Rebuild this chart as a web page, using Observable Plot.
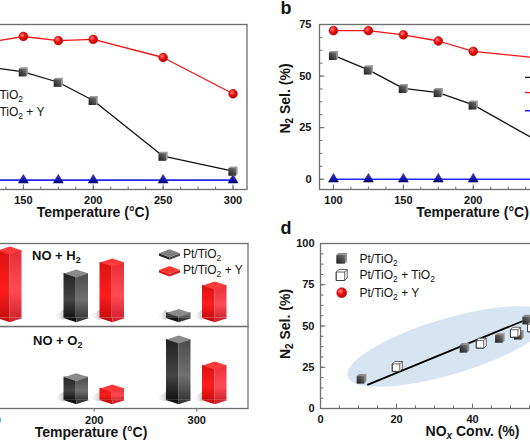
<!DOCTYPE html>
<html><head><meta charset="utf-8">
<script src="https://cdn.jsdelivr.net/npm/d3@7"></script>
<script src="https://cdn.jsdelivr.net/npm/@observablehq/plot@0.6"></script>
<style>
html,body{margin:0;padding:0;background:#fff;}
#root{position:relative;width:530px;height:442px;overflow:hidden;background:#fff;}
</style></head><body><div id="root"></div>
<script>
// ---------------- DATA ----------------
// panels a & b : temperature series
const temps = [100, 125, 150, 175, 200, 250, 300];
const convPt   = [75, 72.6, 69.6, 62.9, 51.2, 15.4, 5.8];   // NOx conv. Pt/TiO2 (a)
const convPtY  = [85, 88.5, 92.3, 89.7, 90.4, 78.8, 55.5];  // NOx conv. Pt/TiO2 + Y (a)
const convY    = [0, 0, 0, 0, 0, 0, 0];                     // blue series (a)
const selPt    = [60, 53, 44, 42, 36, 17, 5];               // N2 sel. Pt/TiO2 (b)
const selPtY   = [72, 72, 70, 67, 62, 58.5, 50];            // N2 sel. Pt/TiO2 + Y (b)
const selY     = [0, 0, 0, 0, 0, 0, 0];                     // blue series (b)
// panel c : bars
const barTemps = [100, 200, 300];
const h2Pt  = [null, 53.9, 6.3];
const h2PtY = [81.6, 67.1, 39.4];
const o2Pt  = [null, 28.2, 74.1];
const o2PtY = [null, 14.4, 42.4];
// panel d : scatter
const dPtConv   = [10.8, 37.9, 47.2, 52.2, 54.4];
const dPtSel    = [18, 36.8, 42.8, 44.7, 53.9];
const dTiConv   = [20.2, 42.3, 51.3, 55.8];
const dTiSel    = [25.5, 39.6, 46.2, 49.5];
const dYConv    = [85, 88.5, 92.3, 89.7, 90.4, 78.8];
const dYSel     = [72, 72, 70, 67, 62, 58.5];
const fitConv   = [12.5, 85];
const fitSel    = [14.5, 83];
const ellipse   = {cx: 33.9, cy: 37.3, ax: 26.7, slope: 0.633, hc: 17.6};
// tick labels (those inside the visible crop)
const tempTicksA = [150, 200, 250, 300];
const tempTicksB = [100, 150, 200];
const tempMajor  = [100, 150, 200, 250, 300];
const selTicks   = [0, 25, 50, 75];
const convMajorA = [0, 25, 50, 75, 100];
const dXTicks    = [0, 20, 40];
const dXMajor    = [0, 20, 40, 60, 80, 100];
const dYTicks    = [0, 25, 50, 75, 100];
const cTicks     = [100, 200, 300];

// ---------------- STYLE / HELPERS ----------------
const root = document.getElementById("root");
const FONT = "'Liberation Sans', Arial, Helvetica, sans-serif";
const AXC = "#6e6e6e", TXT = "#141414";
const RED = "#f41414", BLK = "#111", BLUE = "#2424ff";

root.insertAdjacentHTML("beforeend", `
<svg width="0" height="0" style="position:absolute;left:0;top:0">
<defs>
 <linearGradient id="gCube" x1="0" y1="1" x2="1" y2="0"><stop offset="0" stop-color="#1c1c1c"/><stop offset="1" stop-color="#747474"/></linearGradient>
 <radialGradient id="gRed" cx="0.38" cy="0.35" r="0.7"><stop offset="0" stop-color="#ff8a8a"/><stop offset="0.45" stop-color="#f21010"/><stop offset="1" stop-color="#b30000"/></radialGradient>
 <linearGradient id="gBlue" x1="0" y1="0" x2="0" y2="1"><stop offset="0" stop-color="#3a3af0"/><stop offset="1" stop-color="#00007a"/></linearGradient>
 <linearGradient id="gBlkL" x1="0" y1="0" x2="0" y2="1"><stop offset="0" stop-color="#222"/><stop offset="0.6" stop-color="#444"/><stop offset="1" stop-color="#121212"/></linearGradient>
 <linearGradient id="gBlkR" x1="0" y1="0" x2="0" y2="1"><stop offset="0" stop-color="#4c4c4c"/><stop offset="0.6" stop-color="#707070"/><stop offset="1" stop-color="#383838"/></linearGradient>
 <linearGradient id="gRedL" x1="0" y1="0" x2="0" y2="1"><stop offset="0" stop-color="#dc1212"/><stop offset="0.6" stop-color="#ff1c1c"/><stop offset="1" stop-color="#c80c0c"/></linearGradient>
 <linearGradient id="gRedR" x1="0" y1="0" x2="0" y2="1"><stop offset="0" stop-color="#e62e38"/><stop offset="0.6" stop-color="#ff4a55"/><stop offset="1" stop-color="#d22530"/></linearGradient>
 <linearGradient id="gShadow" x1="0" y1="0" x2="1" y2="0"><stop offset="0" stop-color="#fff" stop-opacity="0"/><stop offset="1" stop-color="#c8c8c8"/></linearGradient>
</defs></svg>`);

function mk({fl, ft, fw, fh, mL = 4, mR = 4, mT = 4, mB = 4, xd, yd, marks}) {
  const svg = Plot.plot({
    width: mL + fw + mR, height: mT + fh + mB,
    marginLeft: mL, marginRight: mR, marginTop: mT, marginBottom: mB,
    x: {domain: xd, axis: null}, y: {domain: yd, axis: null},
    style: {background: "none", maxWidth: "none", overflow: "visible"},
    marks
  });
  svg.style.position = "absolute";
  svg.style.left = (fl - mL) + "px";
  svg.style.top = (ft - mT) + "px";
  root.appendChild(svg);
}
const rng = (a, b, s) => d3.range(a, b + 1e-9, s);
const vTick = len => ({draw(c) { c.moveTo(0, 0); c.lineTo(0, len); }});
const hTick = len => ({draw(c) { c.moveTo(0, 0); c.lineTo(len, 0); }});
const xTickMarks = (vals, y0, len) => Plot.dot(vals, {x: d => d, y: () => y0, symbol: vTick(len), fill: "none", stroke: AXC, strokeWidth: 1});
const yTickMarks = (vals, x0, len) => Plot.dot(vals, {x: () => x0, y: d => d, symbol: hTick(len), fill: "none", stroke: AXC, strokeWidth: 1});
const txt = {fontSize: 11, fontWeight: "bold", fontFamily: FONT, fill: TXT};
const xLabels = (vals, y0, dy) => Plot.text(vals, {x: d => d, y: () => y0, dy, text: d => String(d), ...txt});
const yLabels = (vals, x0, dx) => Plot.text(vals, {x: () => x0, y: d => d, dx, textAnchor: "end", text: d => String(d), ...txt});

// cube marker geometry
function cubeGeom(s, o) { return {x0: -s/2 - o/2, x1: s/2 - o/2, y0: -s/2 + o/2, y1: s/2 + o/2, o}; }
function drawSil(c, g) { c.moveTo(g.x0, g.y1); c.lineTo(g.x0, g.y0); c.lineTo(g.x0 + g.o, g.y0 - g.o); c.lineTo(g.x1 + g.o, g.y0 - g.o); c.lineTo(g.x1 + g.o, g.y1 - g.o); c.lineTo(g.x1, g.y1); c.closePath(); }
function drawFront(c, g) { c.moveTo(g.x0, g.y0); c.lineTo(g.x1, g.y0); c.lineTo(g.x1, g.y1); c.lineTo(g.x0, g.y1); c.closePath(); }
const symSil = (s, o) => ({draw(c) { drawSil(c, cubeGeom(s, o)); }});
const symFront = (s, o) => ({draw(c) { drawFront(c, cubeGeom(s, o)); }});
const symOpen = (s, o) => ({draw(c) { const g = cubeGeom(s, o); drawSil(c, g); drawFront(c, g); c.moveTo(g.x1, g.y0); c.lineTo(g.x1 + g.o, g.y0 - g.o); }});
const pathOf = fn => { const p = d3.path(); fn(p); return p.toString(); };

const rows = (xs, ys) => xs.map((x, i) => ({x, y: ys[i]})).filter(d => d.y != null);

function seriesMarks(black, red, blue) {
  return [
    Plot.line(blue, {x: "x", y: "y", stroke: BLUE, strokeWidth: 1.6}),
    Plot.line(black, {x: "x", y: "y", stroke: BLK, strokeWidth: 1.3}),
    Plot.line(red, {x: "x", y: "y", stroke: RED, strokeWidth: 1.3}),
    Plot.dot(blue, {x: "x", y: "y", symbol: "triangle", r: 3.7, fill: "url(#gBlue)", stroke: "#00005a", strokeWidth: 0.5}),
    Plot.dot(black, {x: "x", y: "y", symbol: symSil(7.5, 1.6), fill: "#9a9a9a"}),
    Plot.dot(black, {x: "x", y: "y", symbol: symFront(7.5, 1.6), fill: "url(#gCube)"}),
    Plot.dot(red, {x: "x", y: "y", r: 4.4, fill: "url(#gRed)", stroke: "#a00000", strokeWidth: 0.5})
  ];
}

// ---------------- PANEL a ----------------
const aXD = [90, 310], aYD = [-6, 100];
mk({fl: -61.5, ft: 24, fw: 307.5, fh: 165, mL: 40, mB: 30, xd: aXD, yd: aYD, marks: [
  Plot.frame({stroke: AXC, strokeWidth: 1.3}),
  xTickMarks(rng(100, 300, 12.5), aYD[0], -3), xTickMarks(tempMajor, aYD[0], -5),
  yTickMarks(rng(0, 100, 6.25), aXD[0], 3), yTickMarks(convMajorA, aXD[0], 5),
  xLabels(tempTicksA, aYD[0], 10.5),
  ...seriesMarks(rows(temps, convPt), rows(temps, convPtY), rows(temps, convY))
]});

// ---------------- PANEL b ----------------
const bXD = [90, 310], bYD = [-5, 75];
mk({fl: 318.7, ft: 24, fw: 307.5, fh: 165, mL: 40, mB: 30, xd: bXD, yd: bYD, marks: [
  Plot.frame({stroke: AXC, strokeWidth: 1.3}),
  xTickMarks(rng(100, 300, 12.5), bYD[0], -3), xTickMarks(tempMajor, bYD[0], -5),
  yTickMarks(rng(0, 75, 6.25), bXD[0], 3), yTickMarks(selTicks, bXD[0], 5),
  xLabels(tempTicksB, bYD[0], 10.5), yLabels(selTicks, bXD[0], -8),
  ...seriesMarks(rows(temps, selPt), rows(temps, selPtY), rows(temps, selY))
]});

// ---------------- PANEL c ----------------
const cXD = [50, 350], cYD = [-10, 90], cFW = 307.5;
const kxC = cFW / (cXD[1] - cXD[0]);
const BW = 24.5, BD = 4;                  // bar pixel width / top depth
const bwU = BW / kxC, offU = 18 / kxC;    // same in data units
const topSym = {draw(c) { c.moveTo(-BW/2, 0); c.lineTo(0, -BD); c.lineTo(BW/2, 0); c.lineTo(0, BD); c.closePath(); }};
const botL = {draw(c) { c.moveTo(-BW/2, -0.5); c.lineTo(0, -0.5); c.lineTo(0, BD); c.lineTo(-BW/2, 0); c.closePath(); }};
const botR = {draw(c) { c.moveTo(0, -0.5); c.lineTo(BW/2, -0.5); c.lineTo(BW/2, 0); c.lineTo(0, BD); c.closePath(); }};
const shadowSym = {draw(c) { c.moveTo(-BW/2, -9); c.lineTo(-BW/2 - 11, -1.5); c.lineTo(-BW/2, 1.5); c.closePath(); }};
const palBlk = {L: "url(#gBlkL)", R: "url(#gBlkR)", T: "#8a8a8a", bL: "#121212", bR: "#383838"};
const palRed = {L: "url(#gRedL)", R: "url(#gRedR)", T: "#ff3a3a", bL: "#c80c0c", bR: "#d22530"};
function bars(data, pal, sign) {
  const cx = d => d.x + sign * offU;
  return [
    Plot.rect(data, {x1: d => cx(d) - bwU/2, x2: cx, y1: () => 0, y2: "y", fill: pal.L}),
    Plot.rect(data, {x1: cx, x2: d => cx(d) + bwU/2, y1: () => 0, y2: "y", fill: pal.R}),
    Plot.dot(data, {x: cx, y: () => 0, symbol: botL, fill: pal.bL}),
    Plot.dot(data, {x: cx, y: () => 0, symbol: botR, fill: pal.bR}),
    Plot.dot(data, {x: cx, y: "y", symbol: topSym, fill: pal.T})
  ];
}
const shadows = (data, sign) => Plot.dot(data, {x: d => d.x + sign * offU, y: () => 0, symbol: shadowSym, fill: "url(#gShadow)"});
const hB = rows(barTemps, h2Pt), hR = rows(barTemps, h2PtY);
const oB = rows(barTemps, o2Pt), oR = rows(barTemps, o2PtY);
mk({fl: -60, ft: 243, fw: cFW, fh: 83, xd: cXD, yd: cYD, marks: [
  shadows(hB, -1), shadows(hR, 1),
  ...bars(hB, palBlk, -1), ...bars(hR, palRed, 1),
  Plot.frame({stroke: AXC, strokeWidth: 1.3})
]});
mk({fl: -60, ft: 326, fw: cFW, fh: 82, mB: 30, xd: cXD, yd: cYD, marks: [
  shadows(oB, -1), shadows(oR, 1),
  ...bars(oB, palBlk, -1), ...bars(oR, palRed, 1),
  Plot.frame({stroke: AXC, strokeWidth: 1.3}),
  xTickMarks(cTicks, cYD[0], 3),
  xLabels(cTicks, cYD[0], 11.5)
]});

// ---------------- PANEL d ----------------
const dXD = [0, 100], dYD = [0, 100];
const tE = d3.range(0, 181, 3).map(a => a * Math.PI / 180);
const ellRows = tE.map(t => {
  const x = ellipse.cx + ellipse.ax * Math.cos(t);
  const mid = ellipse.cy + ellipse.slope * (x - ellipse.cx);
  return {x, y1: mid - ellipse.hc * Math.sin(t), y2: mid + ellipse.hc * Math.sin(t)};
});
const dPt = rows(dPtConv, dPtSel), dTi = rows(dTiConv, dTiSel), dY = rows(dYConv, dYSel), dFit = rows(fitConv, fitSel);
mk({fl: 320, ft: 243, fw: 380, fh: 165, mL: 40, mB: 30, xd: dXD, yd: dYD, marks: [
  Plot.areaY(ellRows, {x: "x", y1: "y1", y2: "y2", fill: "#d6e5f1"}),
  Plot.frame({stroke: AXC, strokeWidth: 1.3}),
  xTickMarks(rng(0, 100, 5), dYD[0], -3), xTickMarks(dXMajor, dYD[0], -5),
  yTickMarks(rng(0, 100, 6.25), dXD[0], 3), yTickMarks(dYTicks, dXD[0], 5),
  xLabels(dXTicks, dYD[0], 10.5), yLabels(dYTicks, dXD[0], -6),
  Plot.line(dFit, {x: "x", y: "y", stroke: "#000", strokeWidth: 1.8}),
  Plot.dot(dPt, {x: "x", y: "y", symbol: symSil(7.5, 2), fill: "#8e8e8e"}),
  Plot.dot(dPt, {x: "x", y: "y", symbol: symFront(7.5, 2), fill: "url(#gCube)"}),
  Plot.dot(dTi, {x: "x", y: "y", symbol: symOpen(7.5, 2.5), fill: "#fff", stroke: "#3a3a3a", strokeWidth: 0.8}),
  Plot.dot(dY, {x: "x", y: "y", r: 4.4, fill: "url(#gRed)", stroke: "#a00000", strokeWidth: 0.5})
]});

// ---------------- LABELS / LEGENDS ----------------
const sub = (t, s = 8.5, d = 3) => `<tspan dy="${d}" font-size="${s}">${t}</tspan>`;
const back = d => `<tspan dy="${-d}">`;
const plate = (x, y, top, l, r) => `
  <path transform="translate(${x},${y})" d="M-10.5,0L0,4L0,6.5L-10.5,2.5Z" fill="${l}"/>
  <path transform="translate(${x},${y})" d="M0,4L10.5,0L10.5,2.5L0,6.5Z" fill="${r}"/>
  <path transform="translate(${x},${y})" d="M-10.5,0L0,-4L10.5,0L0,4Z" fill="${top}"/>`;
const ov = `
<svg width="530" height="442" style="position:absolute;left:0;top:0" font-family="${FONT}" fill="${TXT}">
  <text x="280.5" y="14" font-size="18" font-weight="bold">b</text>
  <text x="280.5" y="234" font-size="18" font-weight="bold">d</text>
  <text x="93" y="217" font-size="14" font-weight="bold" text-anchor="middle">Temperature (°C)</text>
  <text x="472.5" y="217" font-size="14" font-weight="bold" text-anchor="middle">Temperature (°C)</text>
  <text x="91" y="437" font-size="14" font-weight="bold" text-anchor="middle">Temperature (°C)</text>
  <text x="472.5" y="436" font-size="14" font-weight="bold" text-anchor="middle">NO${sub("x", 10, 3).replace("<tspan", "<tspan font-style=\"italic\"")}${back(3)} Conv. (%)</tspan></text>
  <text transform="translate(290,98.5) rotate(-90)" font-size="14" font-weight="bold" text-anchor="middle">N${sub("2", 10, 3)}${back(3)} Sel. (%)</tspan></text>
  <text transform="translate(290,324) rotate(-90)" font-size="14" font-weight="bold" text-anchor="middle">N${sub("2", 10, 3)}${back(3)} Sel. (%)</tspan></text>

  <text x="-15.3" y="98.8" font-size="12">Pt/TiO${sub("2")}</text>
  <text x="-15.3" y="116" font-size="12">Pt/TiO${sub("2")}${back(3)} + Y</tspan></text>

  <line x1="525" y1="77.3" x2="560" y2="77.3" stroke="${BLK}" stroke-width="1.3"/>
  <line x1="525" y1="92.7" x2="560" y2="92.7" stroke="${RED}" stroke-width="1.3"/>
  <line x1="525" y1="110.7" x2="560" y2="110.7" stroke="${BLUE}" stroke-width="1.6"/>

  <text x="32" y="259.7" font-size="13" font-weight="bold">NO + H${sub("2", 9, 3)}</text>
  <text x="33" y="344.7" font-size="13" font-weight="bold">NO + O${sub("2", 9, 3)}</text>
  ${plate(169.5, 253.3, "#7e7e7e", "#262626", "#4a4a4a")}
  ${plate(169.5, 270, "#ff3535", "#e00c0c", "#c81a22")}
  <text x="183" y="257.6" font-size="12">Pt/TiO${sub("2")}</text>
  <text x="183" y="274.3" font-size="12">Pt/TiO${sub("2")}${back(3)} + Y</tspan></text>

  <path transform="translate(341.7,258.3)" d="${pathOf(c => drawSil(c, cubeGeom(8.5, 2)))}" fill="#8e8e8e"/>
  <path transform="translate(341.7,258.3)" d="${pathOf(c => drawFront(c, cubeGeom(8.5, 2)))}" fill="url(#gCube)"/>
  <path transform="translate(341.7,275)" d="${pathOf(c => symOpen(8.5, 2.5).draw(c))}" fill="#fff" stroke="#3a3a3a" stroke-width="0.8"/>
  <circle cx="341.7" cy="292.7" r="5" fill="url(#gRed)" stroke="#a00000" stroke-width="0.5"/>
  <text x="359.5" y="262.5" font-size="12">Pt/TiO${sub("2")}</text>
  <text x="359.5" y="279.3" font-size="12">Pt/TiO${sub("2")}${back(3)} + TiO${sub("2")}</tspan></text>
  <text x="359.5" y="297" font-size="12">Pt/TiO${sub("2")}${back(3)} + Y</tspan></text>
</svg>`;
root.insertAdjacentHTML("beforeend", ov);
</script>
</body></html>
